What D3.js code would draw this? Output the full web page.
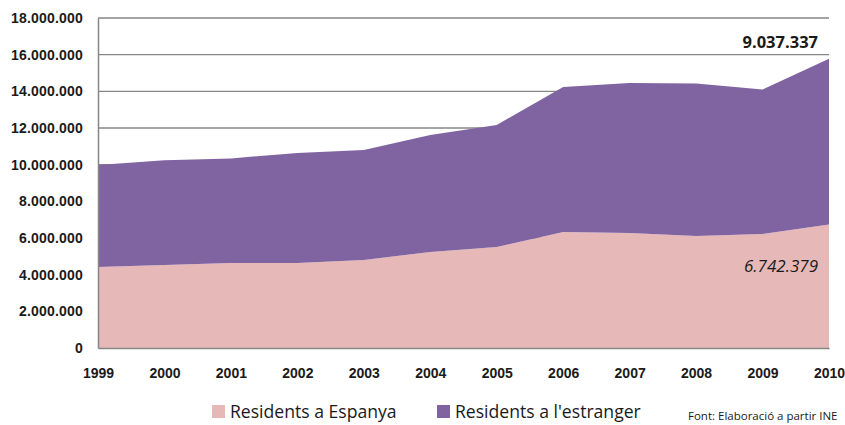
<!DOCTYPE html>
<html>
<head>
<meta charset="utf-8">
<script src="https://cdn.jsdelivr.net/npm/d3@7"></script>
<style>
  body { margin: 0; background: #fff; }
  svg { font-family: "Open Sans", Arial, sans-serif; }
</style>
</head>
<body>
<div id="chart"></div>
<script>
// valors llegits del gràfic
const years = [1999, 2000, 2001, 2002, 2003, 2004, 2005, 2006, 2007, 2008, 2009, 2010];
const espanya = [4420000, 4530000, 4640000, 4640000, 4800000, 5240000, 5510000, 6330000, 6270000, 6110000, 6220000, 6742379];
const estranger = [5560000, 5710000, 5700000, 6000000, 6000000, 6380000, 6660000, 7910000, 8180000, 8320000, 7880000, 9037337];
const yTicks = [0, 2000000, 4000000, 6000000, 8000000, 10000000, 12000000, 14000000, 16000000, 18000000];
const seriesNames = ["Residents a Espanya", "Residents a l'estranger"];
const colors = ["#e6b9b8", "#8064a2"];

const width = 845, height = 425;
const margin = {top: 18, right: 16, bottom: 77, left: 98};
const w = width - margin.left - margin.right,
      h = height - margin.top - margin.bottom;

const table = years.map((yr, i) => ({year: yr, esp: espanya[i], est: estranger[i]}));
const stacked = d3.stack().keys(["esp", "est"])(table);

const x = d3.scaleLinear().domain(d3.extent(years)).range([0, w]);
const y = d3.scaleLinear().domain([0, 18000000]).range([h, 0]);

const fmt = n => d3.format(",")(n).replace(/,/g, ".");

const svg = d3.select("#chart").append("svg")
    .attr("width", width)
    .attr("height", height);

const g = svg.append("g")
    .attr("transform", "translate(" + margin.left + "," + margin.top + ")");

// graella
g.selectAll(".grid").data(yTicks.filter(d => d > 0)).enter().append("line")
    .attr("x1", 0).attr("x2", w)
    .attr("y1", d => y(d)).attr("y2", d => y(d))
    .attr("stroke", "#868686").attr("stroke-width", 1.3);

const area = d3.area()
    .x(d => x(d.data.year))
    .y0(d => y(d[0]))
    .y1(d => y(d[1]));

g.selectAll(".layer").data(stacked).enter().append("path")
    .attr("fill", (d, i) => colors[i])
    .attr("d", area);

// eixos
const yAxis = g.append("g")
    .call(d3.axisLeft(y).tickValues(yTicks).tickSize(0).tickPadding(15).tickFormat(fmt));
yAxis.select(".domain").attr("stroke", "#868686").attr("stroke-width", 1.5);
yAxis.selectAll("text").attr("font-size", 14).attr("font-weight", "bold").attr("fill", "#1a1a1a")
    .attr("letter-spacing", 0.2);

const xAxis = g.append("g")
    .attr("transform", "translate(0," + h + ")")
    .call(d3.axisBottom(x).tickValues(years).tickSize(0).tickPadding(20).tickFormat(d3.format("d")));
xAxis.select(".domain").attr("stroke", "#868686").attr("stroke-width", 1.5);
xAxis.selectAll("text").attr("font-size", 14).attr("font-weight", "bold").attr("fill", "#1a1a1a");

// etiquetes de valor
const last = years.length - 1;
g.append("text")
    .attr("x", x(years[last]) - 11)
    .attr("y", y(espanya[last] + estranger[last]) - 11)
    .attr("text-anchor", "end")
    .attr("font-size", 16.5).attr("font-weight", "bold").attr("fill", "#1a1a1a")
    .text(fmt(estranger[last]));
g.append("text")
    .attr("x", x(years[last]) - 11)
    .attr("y", y(espanya[last]) + 48)
    .attr("text-anchor", "end")
    .attr("font-size", 17).attr("font-style", "italic").attr("fill", "#1a1a1a")
    .text(fmt(espanya[last]));

// llegenda
const legX = [212, 437];
const leg = svg.selectAll(".leg").data(seriesNames).enter().append("g")
    .attr("transform", (d, i) => "translate(" + legX[i] + ",405)");
leg.append("rect").attr("width", 13).attr("height", 13).attr("fill", (d, i) => colors[i]);
leg.append("text").attr("x", 18).attr("y", 13)
    .attr("font-size", 17.6).attr("fill", "#1a1a1a").text(d => d);

svg.append("text")
    .attr("x", 688).attr("y", 420)
    .attr("font-size", 11.5).attr("fill", "#1a1a1a")
    .text("Font: Elaboració a partir INE");
</script>
</body>
</html>
